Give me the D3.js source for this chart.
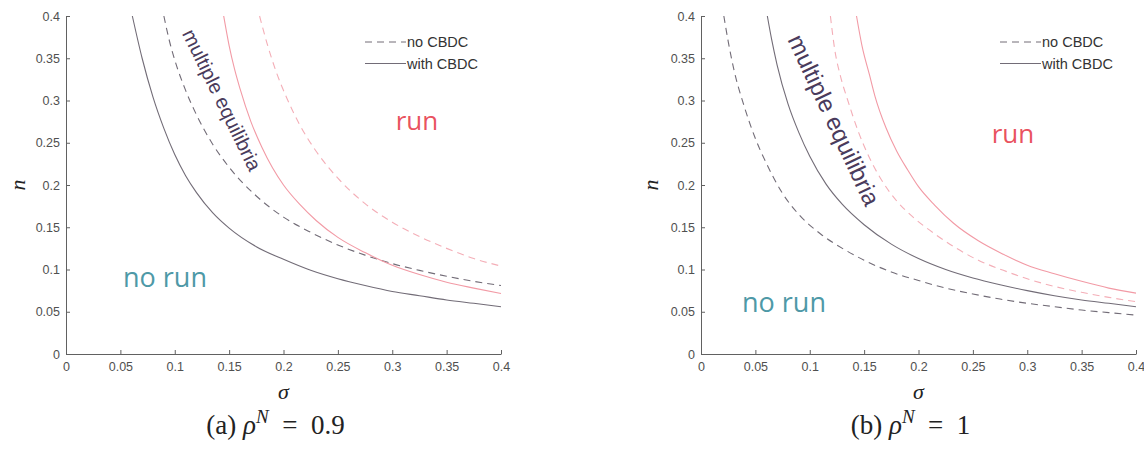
<!DOCTYPE html>
<html>
<head>
<meta charset="utf-8">
<script src="https://cdn.jsdelivr.net/npm/d3@7"></script>
<style>
  body { margin: 0; background: #fff; }
  .axis path, .axis line { stroke: #616161; stroke-width: 1; }
  .axis text { font-family: Arial, "Liberation Sans", sans-serif; font-size: 12.5px; fill: #505050; }
  .math { font-family: "Liberation Serif", "Times New Roman", serif; fill: #222; }
  .region { font-family: "Open Sans", sans-serif; }
  .legend text { font-family: Arial, "Liberation Sans", sans-serif; font-size: 14.5px; fill: #333; }
</style>
</head>
<body>
<div id="viz"></div>
<script>
var width = 1144,
    height = 451,
    plotTop = 16,
    plotBottom = 354;

// ticks shared by both panels
var tickValues = [0, 0.05, 0.1, 0.15, 0.2, 0.25, 0.3, 0.35, 0.4];
var tickLabels = ["0", "0.05", "0.1", "0.15", "0.2", "0.25", "0.3", "0.35", "0.4"];
var legendLabels = ["no CBDC", "with CBDC"];

// panel (a), rho^N = 0.9 -- [sigma, n]
var aNoCbdcLow = [[0.090, 0.400], [0.095, 0.371], [0.100, 0.348], [0.110, 0.312], [0.120, 0.283],
  [0.135, 0.248], [0.150, 0.221], [0.175, 0.187], [0.200, 0.162], [0.225, 0.144], [0.250, 0.129],
  [0.275, 0.117], [0.300, 0.107], [0.325, 0.099], [0.350, 0.092], [0.375, 0.086], [0.400, 0.081]];
var aCbdcLow = [[0.061, 0.400], [0.070, 0.350], [0.080, 0.304], [0.090, 0.267], [0.100, 0.236],
  [0.110, 0.211], [0.120, 0.191], [0.135, 0.167], [0.150, 0.149], [0.175, 0.127], [0.200, 0.112],
  [0.225, 0.099], [0.250, 0.089], [0.275, 0.081], [0.300, 0.074], [0.325, 0.069], [0.350, 0.064],
  [0.375, 0.060], [0.400, 0.056]];
var aNoCbdcHigh = [[0.178, 0.400], [0.185, 0.367], [0.193, 0.335], [0.203, 0.303], [0.215, 0.271],
  [0.230, 0.240], [0.250, 0.208], [0.275, 0.178], [0.300, 0.156], [0.325, 0.139], [0.350, 0.125],
  [0.375, 0.113], [0.400, 0.104]];
var aCbdcHigh = [[0.145, 0.400], [0.150, 0.365], [0.155, 0.337], [0.160, 0.314], [0.170, 0.275],
  [0.180, 0.245], [0.190, 0.220], [0.200, 0.200], [0.215, 0.177], [0.230, 0.158], [0.250, 0.138],
  [0.275, 0.120], [0.300, 0.105], [0.325, 0.094], [0.350, 0.085], [0.375, 0.078], [0.400, 0.0715]];

// panel (b), rho^N = 1
var bNoCbdcLow = [[0.021, 0.400], [0.025, 0.370], [0.030, 0.338], [0.040, 0.292], [0.050, 0.255],
  [0.060, 0.226], [0.075, 0.190], [0.090, 0.165], [0.110, 0.142], [0.130, 0.125], [0.150, 0.111],
  [0.175, 0.097], [0.200, 0.087], [0.225, 0.078], [0.250, 0.071], [0.275, 0.065], [0.300, 0.060],
  [0.325, 0.056], [0.350, 0.052], [0.375, 0.049], [0.400, 0.046]];
var bCbdcLow = [[0.061, 0.400], [0.065, 0.372], [0.070, 0.342], [0.080, 0.296], [0.090, 0.262],
  [0.100, 0.234], [0.115, 0.201], [0.130, 0.177], [0.150, 0.153], [0.175, 0.130], [0.200, 0.113],
  [0.225, 0.100], [0.250, 0.090], [0.275, 0.082], [0.300, 0.075], [0.325, 0.069], [0.350, 0.064],
  [0.375, 0.060], [0.400, 0.056]];
var bNoCbdcHigh = [[0.119, 0.400], [0.123, 0.360], [0.128, 0.330], [0.135, 0.300], [0.145, 0.262],
  [0.155, 0.232], [0.165, 0.208], [0.180, 0.181], [0.195, 0.162], [0.215, 0.142], [0.235, 0.125],
  [0.255, 0.111], [0.278, 0.099], [0.300, 0.089], [0.325, 0.080], [0.350, 0.073], [0.375, 0.067],
  [0.400, 0.062]];
var bCbdcHigh = [[0.143, 0.400], [0.148, 0.365], [0.155, 0.330], [0.160, 0.305], [0.170, 0.268],
  [0.180, 0.240], [0.190, 0.218], [0.200, 0.198], [0.215, 0.176], [0.232, 0.155], [0.255, 0.134],
  [0.278, 0.118], [0.300, 0.105], [0.325, 0.095], [0.350, 0.086], [0.375, 0.078], [0.400, 0.072]];

var grayCol = "#726c77",
    pinkCol = "#f29aa5",
    pinkDashCol = "#f4aeb7";

var panels = [
  { left: 66, right: 501, letter: "(a) ", value: "0.9",
    curves: [aNoCbdcLow, aCbdcLow, aNoCbdcHigh, aCbdcHigh],
    run: [417, 130], noRun: [123, 287], multi: [222, 100, 64, 20], nLab: 18 },
  { left: 701, right: 1136, letter: "(b) ", value: "1",
    curves: [bNoCbdcLow, bCbdcLow, bNoCbdcHigh, bCbdcHigh],
    run: [1013, 143], noRun: [742, 312], multi: [834, 120, 65, 24], nLab: 651 }
];

var svg = d3.select("#viz").append("svg")
  .attr("width", width)
  .attr("height", height);

panels.forEach(function(p) {
  var x = d3.scaleLinear().domain([0, 0.4]).range([p.left, p.right]);
  var y = d3.scaleLinear().domain([0, 0.4]).range([plotBottom, plotTop]);

  // axes, ticks pointing inward like matlab
  svg.append("g")
    .attr("class", "axis")
    .attr("transform", "translate(0," + plotBottom + ")")
    .call(d3.axisBottom(x).tickValues(tickValues).tickFormat((d, i) => tickLabels[i])
      .tickSizeInner(-4).tickSizeOuter(0).tickPadding(8));

  svg.append("g")
    .attr("class", "axis")
    .attr("transform", "translate(" + p.left + ",0)")
    .call(d3.axisLeft(y).tickValues(tickValues).tickFormat((d, i) => tickLabels[i])
      .tickSizeInner(-4).tickSizeOuter(0).tickPadding(6));

  var line = d3.line()
    .x(d => x(d[0]))
    .y(d => y(d[1]))
    .curve(d3.curveMonotoneX);

  var styles = [
    { color: grayCol, dash: "7,5" },
    { color: grayCol, dash: null },
    { color: pinkDashCol, dash: "7,5" },
    { color: pinkCol, dash: null }
  ];

  p.curves.forEach(function(c, i) {
    svg.append("path")
      .datum(c)
      .attr("fill", "none")
      .attr("stroke", styles[i].color)
      .attr("stroke-width", 1.1)
      .attr("stroke-dasharray", styles[i].dash)
      .attr("d", line);
  });

  // legend
  var legend = svg.append("g").attr("class", "legend");
  legendLabels.forEach(function(lab, i) {
    var ly = 42 + i * 21.5;
    legend.append("line")
      .attr("x1", p.left + 299).attr("x2", p.left + 340)
      .attr("y1", ly).attr("y2", ly)
      .attr("stroke", grayCol)
      .attr("stroke-width", 1)
      .attr("stroke-dasharray", i === 0 ? "7,5" : null);
    legend.append("text")
      .attr("x", p.left + 341)
      .attr("y", ly)
      .attr("dy", "0.35em")
      .text(lab);
  });

  // region labels
  svg.append("text")
    .attr("class", "region")
    .attr("x", p.run[0]).attr("y", p.run[1])
    .attr("text-anchor", "middle")
    .attr("font-size", 26)
    .attr("fill", "#e9535f")
    .text("run");

  svg.append("text")
    .attr("class", "region")
    .attr("x", p.noRun[0]).attr("y", p.noRun[1])
    .attr("font-size", 27)
    .attr("fill", "#4e99a7")
    .text("no run");

  svg.append("text")
    .attr("transform", "translate(" + p.multi[0] + "," + p.multi[1] + ") rotate(" + p.multi[2] + ")")
    .attr("text-anchor", "middle")
    .attr("dy", "0.35em")
    .attr("font-family", "Arial, 'Liberation Sans', sans-serif")
    .attr("font-size", p.multi[3])
    .attr("fill", "#4a3b5c")
    .text("multiple equilibria");

  // axis titles
  svg.append("text")
    .attr("class", "math")
    .attr("x", (p.left + p.right) / 2)
    .attr("y", 399)
    .attr("text-anchor", "middle")
    .attr("font-style", "italic")
    .attr("font-size", 22)
    .text("σ");

  svg.append("text")
    .attr("class", "math")
    .attr("transform", "translate(" + p.nLab + "," + (plotTop + plotBottom) / 2 + ") rotate(-90)")
    .attr("text-anchor", "middle")
    .attr("dy", "0.3em")
    .attr("font-style", "italic")
    .attr("font-size", 22)
    .text("n");

  // caption
  var cap = svg.append("text")
    .attr("class", "math")
    .attr("x", (p.left + p.right) / 2 - 8)
    .attr("y", 434)
    .attr("text-anchor", "middle")
    .attr("font-size", 27);
  cap.append("tspan").text(p.letter);
  cap.append("tspan").attr("font-style", "italic").text("ρ");
  cap.append("tspan").attr("font-style", "italic").attr("font-size", 19).attr("dy", -11).text("N");
  cap.append("tspan").attr("dy", 11).text("\u2002=\u2002" + p.value);
});
</script>
</body>
</html>
